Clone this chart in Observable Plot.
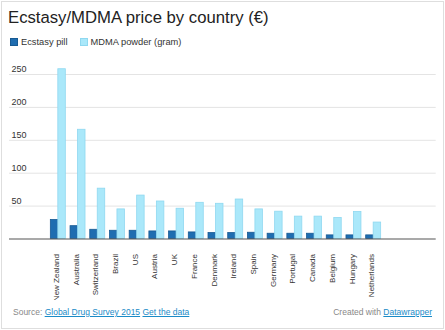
<!DOCTYPE html>
<html>
<head>
<meta charset="utf-8">
<script src="https://cdn.jsdelivr.net/npm/d3@7"></script>
<script src="https://cdn.jsdelivr.net/npm/@observablehq/plot@0.6"></script>
<style>
  html, body { margin: 0; padding: 0; background: #fff; }
  body { width: 445px; height: 330px; position: relative; overflow: hidden;
         font-family: "Liberation Sans", Arial, Helvetica, sans-serif; }
  #frame { position: absolute; left: 1px; top: 1px; width: 443px; height: 328px;
           box-sizing: border-box; border: 1px solid #dedede; }
  #title { position: absolute; left: 8px; top: 8px; font-size: 16.7px; color: #222; white-space: nowrap; }
  #legend { position: absolute; left: 10px; top: 37px; font-size: 9.3px; color: #333; white-space: nowrap; }
  .lg { display: inline-block; margin-right: 12px; }
  .sw { display: inline-block; width: 8px; height: 8px; vertical-align: -1px; margin-right: 3px; box-sizing: border-box; }
  #chart { position: absolute; left: 0; top: 55px; }
  #footer { position: absolute; left: 13px; right: 13px; top: 307px; font-size: 8.5px; color: #888; }
  #footer a { color: #1a8bc7; text-decoration: underline; }
  #footer .r { position: absolute; right: 0; top: 0; }
</style>
</head>
<body>
<div id="frame"></div>
<div id="title">Ecstasy/MDMA price by country (€)</div>
<div id="legend"></div>
<div id="chart"></div>
<div id="footer"><span>Source: <a>Global Drug Survey 2015</a> <a>Get the data</a></span><span class="r">Created with <a>Datawrapper</a></span></div>
<script>
const countries = ["New Zealand","Australia","Switzerland","Brazil","US","Austria","UK","France","Denmark","Ireland","Spain","Germany","Portugal","Canada","Belgium","Hungary","Netherlands"];
const ecstasyPill = [29, 19.5, 14, 12.5, 12.5, 11.5, 11.5, 10, 9, 9, 9.5, 8, 8, 8, 5.5, 5.5, 5.5];
const mdmaPowder = [258, 166, 76.5, 45, 66, 57, 46, 55, 53.5, 60, 45, 41.5, 34, 34, 32, 41, 25];
const seriesNames = ["Ecstasy pill", "MDMA powder (gram)"];
const seriesColors = ["#1f6db0", "#aae8fa"];
const seriesStrokes = ["#175a93", "#8fd8f0"];
const yTicks = [50, 100, 150, 200, 250];

const rows = countries.map((c, i) => ({country: c, pill: ecstasyPill[i], powder: mdmaPowder[i]}));

// legend
const lg = document.getElementById("legend");
seriesNames.forEach((n, i) => {
  const s = document.createElement("span");
  s.className = "lg";
  s.innerHTML = `<span class="sw" style="background:${seriesColors[i]};border:1px solid ${seriesStrokes[i]}"></span>${n}`;
  lg.appendChild(s);
});

const W = 445, H = 245;
const xRange = [46, 385];
const pad = 0.2;
const step = (xRange[1] - xRange[0]) / (countries.length - pad + 2 * pad);
const half = step * (1 - pad) / 2;

const chart = Plot.plot({
  width: W,
  height: H,
  marginLeft: 9,
  marginRight: 9.3,
  marginTop: 19,
  marginBottom: 61.5,
  style: {fontFamily: '"Liberation Sans", Arial, sans-serif', color: "#333", background: "transparent"},
  x: {type: "band", domain: countries, range: xRange, padding: pad, round: false},
  y: {domain: [0, 250], axis: null},
  marks: [
    Plot.ruleY(yTicks, {stroke: "#e4e4e4", strokeWidth: 1}),
    Plot.text(yTicks, {y: d => d, text: d => String(d), frameAnchor: "left", textAnchor: "start",
      lineAnchor: "bottom", dx: 2, dy: -2.5, fontSize: 9, fill: "#333"}),
    Plot.barY(rows, {x: "country", y: "pill", fill: seriesColors[0], stroke: seriesStrokes[0], strokeWidth: 0.8, insetRight: half, insetLeft: 0.4}),
    Plot.barY(rows, {x: "country", y: "powder", fill: seriesColors[1], stroke: seriesStrokes[1], strokeWidth: 0.8, insetLeft: half, insetRight: 0.4}),
    Plot.ruleY([0], {stroke: "#555", strokeWidth: 1.2}),
    Plot.axisX({tickSize: 0, tickPadding: 15, tickRotate: -90, fontSize: 8, dx: -2, fill: "#333", label: null})
  ]
});
document.getElementById("chart").appendChild(chart);
</script>
</body>
</html>
